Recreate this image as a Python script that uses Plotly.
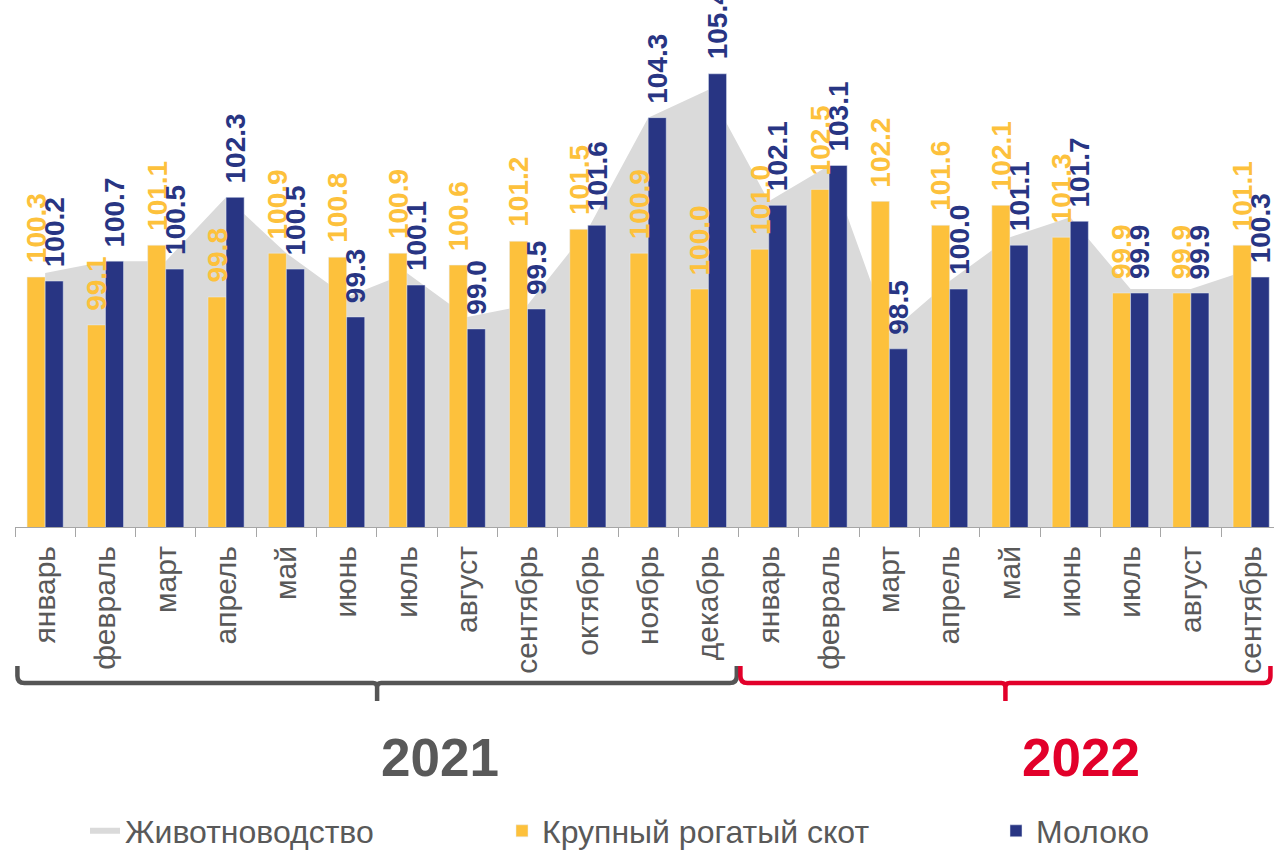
import plotly.graph_objects as go

months = ["январь", "февраль", "март", "апрель", "май", "июнь", "июль", "август",
          "сентябрь", "октябрь", "ноябрь", "декабрь",
          "январь", "февраль", "март", "апрель", "май", "июнь", "июль", "август", "сентябрь"]
livestock = [100.4, 100.7, 100.7, 102.3, 100.9, 99.8, 100.4, 99.3, 99.6, 101.5, 104.3, 105.0,
             102.2, 103.1, 98.9, 100.2, 101.3, 101.8, 100.0, 100.0, 100.5]
cattle = [100.3, 99.1, 101.1, 99.8, 100.9, 100.8, 100.9, 100.6, 101.2, 101.5, 100.9, 100.0,
          101.0, 102.5, 102.2, 101.6, 102.1, 101.3, 99.9, 99.9, 101.1]
milk = [100.2, 100.7, 100.5, 102.3, 100.5, 99.3, 100.1, 99.0, 99.5, 101.6, 104.3, 105.4,
        102.1, 103.1, 98.5, 100.0, 101.1, 101.7, 99.9, 99.9, 100.3]
years = ["2021", "2022"]
names = ["Животноводство", "Крупный рогатый скот", "Молоко"]

W, H = 1274, 850
ML, MR, MT, MB = 15, 0, 0, 323
PW, PH = W - ML - MR, H - MT - MB
CAT_PX = 60.3
X0 = -0.5
X1 = X0 + PW / CAT_PX
Y0 = 94.03
Y1 = Y0 + PH / 39.86

GREY_AREA = "#DADADA"
YELLOW = "#FDC13C"
NAVY = "#283583"
TXT = "#595959"
RED = "#E2002A"
FONT = "Arial, Liberation Sans, sans-serif"

xs = list(range(len(months)))
BW = 0.3

fig = go.Figure()
# area on the base axes (drawn underneath)
fig.add_trace(go.Scatter(x=xs, y=livestock, name=names[0], mode="none", fill="tozeroy",
                         fillcolor=GREY_AREA, legend="legend", hoverinfo="skip",
                         xaxis="x", yaxis="y"))
# bars on overlaying axes (drawn on top)
fig.add_trace(go.Bar(x=xs, y=cattle, name=names[1], marker_color=YELLOW, width=BW, offset=-BW,
                     legend="legend2", xaxis="x2", yaxis="y2"))
fig.add_trace(go.Bar(x=xs, y=milk, name=names[2], marker_color=NAVY, width=BW, offset=0,
                     legend="legend3", xaxis="x2", yaxis="y2"))

annotations = []
for i in xs:
    annotations.append(dict(x=i - BW / 2, y=cattle[i], xref="x2", yref="y2", text=f"{cattle[i]:.1f}",
                            textangle=-90, showarrow=False, yanchor="bottom", xanchor="center",
                            yshift=12, font=dict(family=FONT, size=28, color=YELLOW, weight="bold")))
    annotations.append(dict(x=i + BW / 2, y=milk[i], xref="x2", yref="y2", text=f"{milk[i]:.1f}",
                            textangle=-90, showarrow=False, yanchor="bottom", xanchor="center",
                            yshift=12, font=dict(family=FONT, size=28, color=NAVY, weight="bold")))


def px(xd):
    return (xd - X0) / (X1 - X0)


def py(pix_below):
    return -pix_below / PH


def bracket(xa, xb, color):
    top, hy, ny = py(139), py(156), py(174)
    rx, ry = 7 / PW, 7 / PH
    rx2, ry2 = 4 / PW, 4 / PH
    a, b = px(xa), px(xb)
    c = (a + b) / 2
    path = (f"M{a},{top} L{a},{hy + ry} Q{a},{hy} {a + rx},{hy} "
            f"L{c - rx2},{hy} Q{c},{hy} {c},{hy - ry2} L{c},{ny} "
            f"M{c},{hy - ry2} Q{c},{hy} {c + rx2},{hy} "
            f"L{b - rx},{hy} Q{b},{hy} {b},{hy + ry} L{b},{top}")
    return dict(type="path", xref="paper", yref="paper", path=path,
                line=dict(color=color, width=4.5), layer="above")


shapes = [bracket(-0.46, 11.47, "#555555"), bracket(11.53, 20.32, RED)]

annotations.append(dict(x=6.54, y=py(230), xref="x", yref="paper", text=years[0], showarrow=False,
                        xanchor="center", yanchor="middle",
                        font=dict(family=FONT, size=53, color=TXT, weight="bold")))
annotations.append(dict(x=17.17, y=py(230), xref="x", yref="paper", text=years[1], showarrow=False,
                        xanchor="center", yanchor="middle",
                        font=dict(family=FONT, size=53, color=RED, weight="bold")))

legend_common = dict(orientation="h", xref="container", yref="container", yanchor="middle",
                     y=1 - 831 / H, font=dict(family=FONT, size=32, color=TXT),
                     bgcolor="rgba(0,0,0,0)", borderwidth=0)

fig.update_layout(
    width=W, height=H,
    margin=dict(l=ML, r=MR, t=MT, b=MB, autoexpand=False),
    paper_bgcolor="white", plot_bgcolor="white",
    barmode="overlay",
    showlegend=True,
    legend=dict(**legend_common, x=(126 - 41) / W, xanchor="left"),
    legend2=dict(**legend_common, x=(543 - 41) / W, xanchor="left"),
    legend3=dict(**legend_common, x=(1037 - 41) / W, xanchor="left"),
    xaxis=dict(range=[X0, X1], tickvals=xs, ticktext=months, tickangle=-90,
               tickfont=dict(family=FONT, size=30, color=TXT), ticks="",
               showline=True, linecolor="#A6A6A6", linewidth=1, showgrid=False, zeroline=False,
               ticklabelstandoff=6, automargin=False,
               minor=dict(tickvals=[i - 0.5 for i in range(len(months) + 1)], ticks="outside",
                          ticklen=9, tickcolor="#A6A6A6", tickwidth=1, showgrid=False)),
    yaxis=dict(range=[Y0, Y1], visible=False, showgrid=False, zeroline=False, automargin=False),
    xaxis2=dict(range=[X0, X1], overlaying="x", visible=False, showgrid=False, zeroline=False,
                automargin=False),
    yaxis2=dict(range=[Y0, Y1], overlaying="y", visible=False, showgrid=False, zeroline=False,
                automargin=False),
    annotations=annotations,
    shapes=shapes,
)

fig.write_html("out.html", config={"displayModeBar": False},
               post_script="document.body.style.margin='0';document.body.style.overflow='hidden';")
